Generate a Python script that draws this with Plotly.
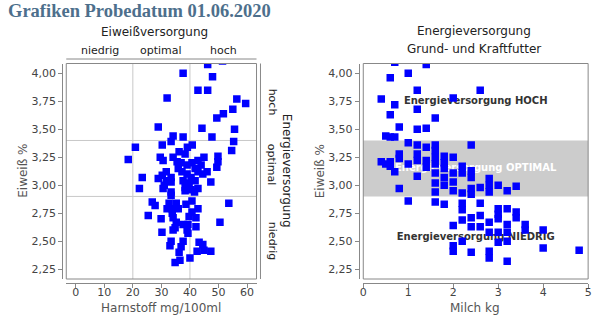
import plotly.graph_objects as go

# ---------------- data ----------------
harnstoff = [46.2, 51.4, 37.6, 47.9, 42.8, 46.2, 32.0, 56.4, 59.5, 55.0, 51.7, 49.4,
             28.9, 44.2, 55.6, 37.6, 34.1, 47.7, 33.4, 55.3, 20.9, 30.3, 40.8, 39.1,
             54.6, 36.2, 38.3, 18.4, 29.6, 30.6, 34.1, 35.5, 44.9, 49.8, 49.8, 42.8,
             36.9, 40.7, 39.0, 43.9, 49.4, 35.9, 41.8, 31.7, 37.2, 42.8, 46.0, 23.3,
             30.3, 33.4, 39.0, 40.4, 44.5, 28.9, 31.7, 33.4, 37.6, 41.8, 47.3, 31.0,
             39.7, 22.3, 30.6, 38.3, 40.4, 42.8, 33.4, 38.3, 41.6, 33.4, 26.8, 27.8,
             32.7, 35.2, 40.7, 38.6, 53.6, 33.8, 32.0, 35.9, 42.8, 25.4, 33.8, 40.7,
             29.9, 34.1, 39.7, 42.1, 35.2, 50.5, 37.6, 39.3, 34.8, 42.1, 34.1, 39.0,
             30.2, 39.3, 33.4, 37.6, 43.2, 33.0, 36.9, 44.5, 42.5, 44.9, 47.3, 36.2,
             40.0, 36.5, 34.8]
eiweiss_l = [4.08, 4.11, 4.00, 3.97, 3.85, 3.85, 3.78, 3.77, 3.73, 3.68, 3.64, 3.60,
             3.52, 3.51, 3.50, 3.43, 3.44, 3.43, 3.39, 3.39, 3.34, 3.36, 3.36, 3.34,
             3.31, 3.30, 3.28, 3.23, 3.25, 3.22, 3.25, 3.21, 3.25, 3.26, 3.21, 3.22,
             3.20, 3.20, 3.18, 3.18, 3.16, 3.15, 3.15, 3.12, 3.12, 3.12, 3.12, 3.07,
             3.09, 3.07, 3.10, 3.07, 3.10, 3.06, 3.04, 3.03, 3.04, 3.04, 3.03, 3.00,
             3.02, 2.97, 2.97, 2.98, 2.96, 2.97, 2.94, 2.95, 2.94, 2.91, 2.85, 2.82,
             2.84, 2.84, 2.86, 2.83, 2.84, 2.79, 2.79, 2.79, 2.79, 2.73, 2.75, 2.76,
             2.70, 2.71, 2.72, 2.71, 2.67, 2.67, 2.65, 2.65, 2.62, 2.63, 2.60, 2.60,
             2.58, 2.57, 2.50, 2.50, 2.49, 2.46, 2.45, 2.47, 2.41, 2.42, 2.41, 2.40,
             2.35, 2.33, 2.31]

milch = [0.7, 1.4, 0.6, 1.0, 1.2, 2.6, 0.4, 2.0, 0.7, 1.2, 0.6, 1.6, 0.8, 1.2, 1.4,
         0.5, 0.6, 0.7, 1.0, 2.4, 1.2, 1.4, 1.6, 1.6, 1.6, 1.6, 0.8, 0.8, 1.2, 1.2,
         0.4, 0.5, 0.6, 0.6, 1.0, 1.4, 1.4, 1.8, 1.8, 1.8, 2.0, 0.7, 1.2, 1.6, 2.0,
         2.2, 2.2, 2.4, 2.4, 1.8, 1.8, 1.6, 1.6, 2.0, 0.8, 2.0, 2.2, 2.4, 2.4, 2.6,
         2.8, 2.8, 2.8, 3.0, 3.2, 3.4, 1.0, 1.6, 1.8, 2.2, 2.2, 2.6, 3.0, 3.0, 3.0,
         3.2, 3.4, 3.4, 2.4, 2.6, 2.2, 2.0, 2.8, 2.8, 2.4, 2.6, 3.2, 3.6, 3.6, 4.0,
         3.0, 3.0, 3.2, 3.2, 2.2, 2.0, 2.0, 2.4, 2.8, 2.8, 3.2, 4.0, 4.8]
eiweiss_r = [4.10, 4.08, 3.96, 4.00, 3.85, 3.85, 3.77, 3.78, 3.72, 3.68, 3.63, 3.60,
             3.52, 3.50, 3.51, 3.44, 3.43, 3.43, 3.38, 3.36, 3.36, 3.34, 3.36, 3.31,
             3.25, 3.19, 3.28, 3.24, 3.28, 3.22, 3.21, 3.19, 3.21, 3.17, 3.19, 3.22,
             3.16, 3.26, 3.20, 3.15, 3.25, 3.12, 3.08, 3.11, 3.11, 3.17, 3.11, 3.13,
             3.07, 3.07, 3.00, 3.02, 2.94, 3.03, 2.97, 2.95, 2.93, 2.97, 2.92, 2.98,
             3.06, 3.00, 2.94, 3.00, 2.95, 2.99, 2.86, 2.85, 2.83, 2.84, 2.78, 2.84,
             2.79, 2.74, 2.70, 2.79, 2.76, 2.71, 2.71, 2.73, 2.69, 2.64, 2.67, 2.58,
             2.63, 2.63, 2.65, 2.65, 2.60, 2.60, 2.58, 2.49, 2.58, 2.50, 2.50, 2.46,
             2.41, 2.40, 2.41, 2.35, 2.32, 2.44, 2.42]

x_ticks_l = [0, 10, 20, 30, 40, 50, 60]
x_ticks_r = [0, 1, 2, 3, 4, 5]
y_ticks = [2.25, 2.50, 2.75, 3.00, 3.25, 3.50, 3.75, 4.00]
eiweiss_cats = ["niedrig", "optimal", "hoch"]
energie_cats = ["hoch", "optimal", "niedrig"]
band_texts = ["Energieversorgung HOCH", "Energieversorgung OPTIMAL", "Energieversorgung NIEDRIG"]
harn_limits = [20, 40]
eiw_limits = [2.9, 3.4]

# ---------------- geometry helpers ----------------
W, H = 604, 327
def px(v):
    return v / W
def py(v):
    return 1 - v / H

XR_L = [-3.3, 63.3]
XR_R = [0, 5]
YR = [2.162, 4.088]

FONT = "DejaVu Sans"
AXC = "#888888"
MSIZE = 7.5

fig = go.Figure()
fig.add_trace(go.Scatter(x=harnstoff, y=eiweiss_l, mode="markers",
                         marker=dict(symbol="square", size=MSIZE, color="#0000ff"),
                         xaxis="x", yaxis="y", hoverinfo="skip"))
band_y = [(eiw_limits[1] + YR[1]) / 2, sum(eiw_limits) / 2, (eiw_limits[0] + YR[0]) / 2]
fig.add_trace(go.Scatter(x=[2.5] * 3, y=band_y, mode="text",
                         text=["<b>%s</b>" % t for t in band_texts],
                         textposition="middle center",
                         textfont=dict(family=FONT, size=10, color=["#333333", "#ffffff", "#333333"]),
                         xaxis="x2", yaxis="y2", hoverinfo="skip"))
fig.add_trace(go.Scatter(x=milch, y=eiweiss_r, mode="markers",
                         marker=dict(symbol="square", size=MSIZE, color="#0000ff"),
                         xaxis="x2", yaxis="y2", hoverinfo="skip"))

ydom = [py(279), py(63.5)]
common_x = dict(anchor="free", position=py(283), showline=True, linecolor=AXC,
                ticks="outside", ticklen=4, tickcolor=AXC, showgrid=False, zeroline=False,
                ticklabelstandoff=-5,
                tickfont=dict(family=FONT, size=11, color="#444444"))
common_y = dict(showline=True, linecolor=AXC, ticks="outside", ticklen=4, tickcolor=AXC,
                showgrid=False, zeroline=False, range=YR, domain=ydom, anchor="free",
                tickvals=y_ticks, tickformat=".2f",
                tickfont=dict(family=FONT, size=11, color="#444444"))

fig.update_layout(
    width=W, height=H, margin=dict(l=0, r=0, t=0, b=0),
    paper_bgcolor="white", plot_bgcolor="white", showlegend=False,
    separators=",.",
    xaxis=dict(domain=[px(64), px(256.5)], range=XR_L, tickvals=x_ticks_l, **common_x),
    yaxis=dict(position=px(60), **common_y),
    xaxis2=dict(domain=[px(364.5), px(592)], range=XR_R, tickvals=x_ticks_r, **common_x),
    yaxis2=dict(position=px(360), **common_y),
)

shapes = []
# frames
for xr, yr in (("x domain", "y domain"), ("x2 domain", "y2 domain")):
    shapes.append(dict(type="rect", xref=xr, yref=yr, x0=0, x1=1, y0=0, y1=1,
                       line=dict(color=AXC, width=1), layer="above"))
# left grid lines at category limits
for v in harn_limits:
    shapes.append(dict(type="line", xref="x", yref="y domain", x0=v, x1=v, y0=0, y1=1,
                       line=dict(color="#c8c8c8", width=1), layer="below"))
for v in eiw_limits:
    shapes.append(dict(type="line", xref="x domain", yref="y", x0=0, x1=1, y0=v, y1=v,
                       line=dict(color="#c8c8c8", width=1), layer="below"))
# right optimal band
shapes.append(dict(type="rect", xref="x2 domain", yref="y2", x0=0, x1=1,
                   y0=eiw_limits[0], y1=eiw_limits[1], fillcolor="#cccccc",
                   line=dict(width=0), layer="below"))
# top category axis line and right category axis line (left chart)
shapes.append(dict(type="line", xref="paper", yref="paper", x0=px(64), x1=px(256.5),
                   y0=py(59), y1=py(59), line=dict(color=AXC, width=1)))
shapes.append(dict(type="line", xref="paper", yref="paper", x0=px(260.5), x1=px(260.5),
                   y0=py(63.5), y1=py(279), line=dict(color=AXC, width=1)))
fig.update_layout(shapes=shapes)

ann = []
def A(text, x, y, size=12, color="#333333", xref="paper", yref="paper", angle=0,
      xanchor="center", family=FONT):
    ann.append(dict(text=text, x=x, y=y, xref=xref, yref=yref, showarrow=False,
                    textangle=angle, xanchor=xanchor, yanchor="middle",
                    font=dict(family=family, size=size, color=color)))

A("<b>Grafiken Probedatum 01.06.2020</b>", px(3), py(11), size=18.5, color="#4d6f8c",
  xanchor="left", family="Liberation Serif")
A("Eiweißversorgung", px(153.5), py(32), size=12, color="#222222")
A("Energieversorgung", px(477), py(31), size=12, color="#222222")
A("Grund- und Kraftfutter", px(477), py(49), size=12, color="#222222")
cat_x = [(XR_L[0] + harn_limits[0]) / 2, sum(harn_limits) / 2, (harn_limits[1] + XR_L[1]) / 2]
for t, xv in zip(eiweiss_cats, cat_x):
    A(t, xv, py(51), size=11, color="#222222", xref="x")
cat_y = [(eiw_limits[1] + YR[1]) / 2, 3.18, 2.50]
for t, yv in zip(energie_cats, cat_y):
    A(t, px(272.5), yv, size=11, color="#222222", yref="y", angle=90)
A("Energieversorgung", px(287.5), py(171), size=12, color="#222222", angle=90)
A("Eiweiß %", px(20), py(171), size=12, color="#555555", angle=-90)
A("Eiweiß %", px(321), py(171), size=12, color="#555555", angle=-90)
A("Harnstoff mg/100ml", px(160), py(308), size=12, color="#555555")
A("Milch kg", px(478), py(308), size=12, color="#555555")
fig.update_layout(annotations=ann)

fig.write_html("out.html")
